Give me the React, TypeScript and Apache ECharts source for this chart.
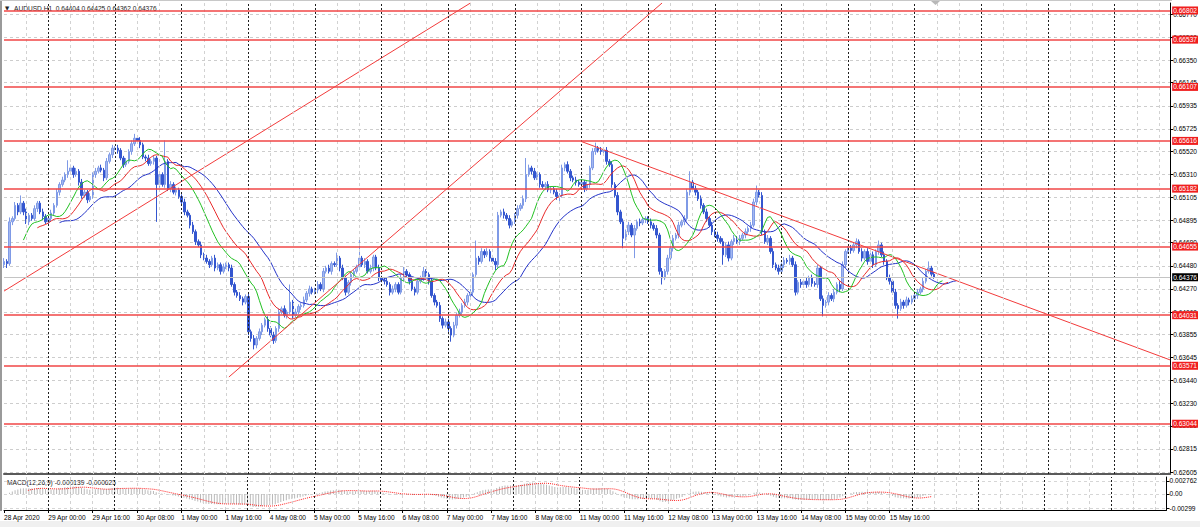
import React, { useEffect, useRef } from "react";
import * as echarts from "echarts";

// ---------- DATA (prices in 1/10000 units) ----------
const firstOpen = 6449;

// Closes, one row per trading day (28 Apr starts at 08:00)
const week1Close = [
  6452, 6450, 6488, 6491, 6503, 6497, 6505, 6497, 6488, 6494, 6491, 6500, 6505, 6497, 6493, 6488,
  6491, 6496, 6503, 6515, 6522, 6526, 6531, 6534, 6537, 6531, 6534, 6524, 6512, 6515, 6508, 6511, 6531, 6534, 6537, 6535, 6528, 6543, 6549, 6555,
  6555, 6553, 6546, 6540, 6543, 6552, 6559, 6564, 6562, 6558, 6547, 6546, 6541, 6543, 6546, 6522, 6531, 6522, 6543, 6518, 6522, 6515, 6517, 6511,
  6506, 6497, 6494, 6485, 6479, 6470, 6467, 6458, 6455, 6452, 6449, 6455, 6446, 6449, 6443, 6447, 6449, 6446, 6431, 6424, 6421, 6418, 6415, 6420,
];
const week2Close = [
  6388, 6382, 6376, 6382, 6388, 6394, 6399, 6391, 6385, 6380, 6391, 6406, 6409, 6403, 6406, 6415, 6403, 6406, 6411, 6412, 6417, 6423, 6427, 6424,
  6426, 6431, 6427, 6443, 6446, 6443, 6450, 6449, 6455, 6446, 6437, 6424, 6433, 6440, 6443, 6447, 6455, 6449, 6452, 6443, 6446, 6456, 6446, 6437,
  6435, 6434, 6431, 6424, 6427, 6431, 6424, 6437, 6443, 6440, 6434, 6427, 6424, 6434, 6437, 6443, 6440, 6434, 6421, 6415, 6412, 6400, 6394, 6397,
  6391, 6385, 6394, 6403, 6406, 6412, 6415, 6421, 6424, 6440, 6455, 6452, 6461, 6458, 6461, 6455, 6452, 6449, 6494, 6497, 6494, 6491, 6485, 6488,
  6494, 6500, 6503, 6509, 6531, 6537, 6534, 6528, 6531, 6522, 6520, 6522, 6517, 6518, 6515, 6511, 6512, 6537, 6540, 6534, 6528, 6526, 6524, 6522,
];
const week3Close = [
  6524, 6518, 6522, 6537, 6552, 6555, 6553, 6552, 6553, 6543, 6540, 6522, 6512, 6497, 6488, 6473, 6479, 6485, 6476, 6482, 6488, 6487, 6490, 6491,
  6488, 6485, 6482, 6476, 6443, 6437, 6443, 6455, 6464, 6473, 6476, 6485, 6488, 6491, 6515, 6524, 6518, 6515, 6509, 6503, 6497, 6491, 6485, 6479,
  6476, 6473, 6470, 6458, 6467, 6455, 6470, 6473, 6470, 6473, 6476, 6479, 6482, 6485, 6506, 6515, 6512, 6479, 6470, 6473, 6461, 6449, 6446, 6443,
  6449, 6453, 6452, 6455, 6449, 6424, 6433, 6431, 6434, 6431, 6437, 6432, 6431, 6446, 6418, 6412, 6415, 6421, 6418, 6424, 6431, 6427, 6449, 6461,
  6464, 6462, 6467, 6470, 6461, 6455, 6461, 6452, 6458, 6449, 6461, 6467, 6458, 6452, 6437, 6434, 6424, 6412, 6409, 6415, 6412, 6417, 6415, 6418,
];
const week4Close = [6421, 6424, 6427, 6434, 6443, 6446, 6440.4, 6437.6];

// Upper / lower wick lengths (pips beyond the body)
const week1Up = [
  3, 2, 4, 2, 3, 2, 7, 2, 3, 2, 2, 3, 2, 2, 3, 2,
  2, 3, 2, 3, 2, 3, 2, 10, 3, 2, 3, 2, 3, 2, 2, 3, 2, 3, 2, 3, 2, 3, 2, 3,
  2, 3, 2, 2, 3, 2, 3, 4, 2, 3, 2, 2, 3, 2, 2, 2, 3, 2, 19, 2, 3, 2, 3, 2,
  2, 3, 2, 2, 3, 2, 2, 3, 2, 3, 2, 2, 3, 2, 2, 3, 2, 2, 3, 2, 2, 3, 2, 2,
];
const week1Dn = [
  3, 4, 2, 3, 2, 3, 2, 3, 2, 3, 2, 2, 3, 2, 3, 2,
  2, 3, 2, 2, 3, 2, 2, 3, 2, 3, 2, 3, 3, 2, 3, 2, 2, 3, 2, 2, 3, 2, 2, 3,
  2, 3, 2, 3, 2, 2, 3, 2, 2, 3, 2, 3, 2, 2, 3, 34, 3, 2, 3, 2, 3, 2, 3, 2,
  2, 3, 2, 3, 2, 3, 2, 3, 2, 2, 3, 2, 3, 2, 3, 2, 2, 3, 2, 3, 2, 2, 3, 2,
];
const week2Up = [
  3, 2, 3, 2, 3, 2, 2, 3, 2, 3, 2, 3, 2, 3, 2, 16, 2, 3, 2, 2, 3, 2, 3, 2,
  2, 3, 2, 3, 2, 3, 2, 2, 5, 2, 3, 2, 2, 3, 2, 2, 18, 2, 3, 2, 3, 2, 2, 3,
  2, 2, 3, 2, 3, 2, 2, 3, 4, 2, 2, 3, 2, 3, 2, 4, 2, 2, 3, 2, 2, 3, 2, 3,
  3, 2, 3, 2, 3, 2, 3, 2, 3, 2, 16, 2, 3, 2, 3, 2, 2, 3, 3, 2, 3, 2, 3, 2,
  2, 3, 2, 3, 15, 3, 2, 3, 2, 2, 3, 2, 3, 2, 2, 3, 2, 3, 2, 3, 2, 2, 3, 2,
];
const week2Dn = [
  3, 3, 4, 3, 2, 3, 2, 3, 2, 3, 2, 3, 2, 2, 3, 2, 3, 2, 2, 3, 2, 2, 3, 2,
  2, 3, 2, 3, 2, 2, 3, 2, 2, 3, 2, 3, 2, 3, 2, 2, 3, 2, 3, 2, 2, 3, 2, 3,
  2, 3, 2, 3, 2, 3, 2, 2, 3, 2, 3, 2, 3, 2, 2, 3, 2, 3, 2, 3, 2, 3, 3, 2,
  3, 6, 2, 3, 2, 3, 2, 3, 2, 3, 2, 3, 2, 3, 2, 3, 2, 5, 3, 2, 3, 2, 3, 2,
  2, 3, 2, 3, 3, 2, 3, 2, 2, 3, 2, 3, 2, 3, 2, 3, 6, 2, 3, 2, 3, 2, 3, 2,
];
const week3Up = [
  3, 2, 3, 2, 3, 5, 2, 3, 2, 3, 2, 3, 2, 3, 2, 3, 2, 3, 2, 3, 2, 3, 2, 2,
  2, 3, 2, 3, 2, 3, 2, 3, 2, 3, 2, 3, 2, 3, 3, 10, 2, 3, 2, 3, 2, 3, 2, 3,
  2, 3, 2, 3, 2, 3, 2, 3, 2, 3, 2, 3, 2, 3, 3, 6, 2, 3, 2, 3, 2, 3, 2, 3,
  2, 3, 2, 3, 2, 3, 2, 3, 2, 3, 2, 3, 2, 3, 2, 3, 2, 3, 2, 3, 2, 3, 3, 2,
  2, 3, 2, 3, 2, 3, 2, 3, 2, 3, 2, 4, 2, 3, 2, 3, 2, 3, 2, 3, 2, 3, 2, 3,
];
const week3Dn = [
  2, 3, 2, 3, 2, 3, 2, 3, 2, 3, 2, 3, 2, 3, 2, 9, 2, 3, 2, 21, 2, 3, 2, 3,
  2, 3, 2, 3, 3, 6, 2, 3, 2, 3, 2, 3, 2, 3, 2, 3, 2, 3, 2, 3, 2, 3, 2, 3,
  2, 3, 2, 9, 2, 3, 2, 3, 2, 3, 2, 3, 2, 3, 2, 3, 2, 3, 2, 3, 2, 3, 2, 3,
  2, 3, 2, 3, 2, 3, 2, 3, 2, 3, 2, 3, 2, 3, 2, 10, 2, 3, 2, 3, 2, 3, 2, 3,
  2, 3, 2, 3, 2, 3, 2, 3, 2, 3, 2, 3, 2, 3, 2, 3, 2, 3, 9, 2, 3, 2, 3, 2,
];
const week4Up = [2, 3, 2, 3, 2, 6, 2, 2.1];
const week4Dn = [2, 3, 2, 3, 2, 2, 2, 1.4];

// Bottom time labels, one every 16 hourly bars
const timeLabels = [
  "28 Apr 2020", "29 Apr 00:00", "29 Apr 16:00", "30 Apr 08:00", "1 May 00:00", "1 May 16:00",
  "4 May 08:00", "5 May 00:00", "5 May 16:00", "6 May 08:00", "7 May 00:00", "7 May 16:00",
  "8 May 08:00", "11 May 00:00", "11 May 16:00", "12 May 08:00", "13 May 00:00", "13 May 16:00",
  "14 May 08:00", "15 May 00:00", "15 May 16:00",
];
const labelStep = 16;
const totalSlots = 421; // bars + empty space to the right (chart shift)
const gridStep = 8; // light vertical grid every 8 bars
const daySeparators = [16, 40, 64, 88, 112, 136, 160, 184, 208, 232, 256, 280, 304, 328, 352, 376, 400];

const priceTicks = [
  0.6677, 0.6656, 0.6635, 0.66145, 0.65935, 0.65725, 0.6552, 0.6531, 0.65105, 0.64895, 0.6469,
  0.6448, 0.6427, 0.6406, 0.63855, 0.63645, 0.6344, 0.6323, 0.63025, 0.62815, 0.62605,
];
const levels = [0.66802, 0.66537, 0.66107, 0.65616, 0.65182, 0.64655, 0.64031, 0.63571, 0.63044];
const bidPrice = 0.64376;

// Trend lines: [bar index, price] end points
const trendUp1 = [[0, 0.6425], [168, 0.6687]];
const trendUp2 = [[81, 0.63469], [237, 0.6687]];
const trendDown = [[208, 0.6561], [420, 0.63624]];

const macdTicks = [0.002762, 0, -0.00299];
const macdTickLabels = ["0.002762", "0.00", "-0.00299"];

const headerText = "AUDUSD,H1  0.64404 0.64425 0.64362 0.64376";
const macdText = "MACD(12,26,9) -0.000139 -0.000625";

// ---------- helpers ----------
const FONT = "'Liberation Sans', Arial, sans-serif";
const FS = 6.6;

function buildBars() {
  const closes = [...week1Close, ...week2Close, ...week3Close, ...week4Close];
  const ups = [...week1Up, ...week2Up, ...week3Up, ...week4Up];
  const dns = [...week1Dn, ...week2Dn, ...week3Dn, ...week4Dn];
  const bars: number[][] = [];
  let prev = firstOpen;
  closes.forEach((c, i) => {
    const o = prev;
    const hi = Math.max(o, c) + (ups[i] ?? 2);
    const lo = Math.min(o, c) - (dns[i] ?? 2);
    const r = (v: number) => Math.round(v * 10) / 100000;
    bars.push([r(o), r(c), r(lo), r(hi)]);
    prev = c;
  });
  return bars;
}

function smmaShift(src: number[], n: number, shift: number, len: number) {
  const out: (number | null)[] = new Array(len).fill(null);
  let s = 0;
  for (let i = 0; i < src.length; i++) {
    if (i < n - 1) continue;
    if (i === n - 1) {
      let sum = 0;
      for (let k = 0; k < n; k++) sum += src[k];
      s = sum / n;
    } else {
      s = (s * (n - 1) + src[i]) / n;
    }
    if (i + shift < len) out[i + shift] = +s.toFixed(6);
  }
  return out;
}

function ema(src: number[], n: number) {
  const k = 2 / (n + 1);
  const out: number[] = [];
  src.forEach((v, i) => out.push(i === 0 ? v : out[i - 1] + k * (v - out[i - 1])));
  return out;
}

export default function App() {
  const ref = useRef<HTMLDivElement>(null);

  useEffect(() => {
    if (!ref.current) return;
    const chart = echarts.init(ref.current, null, { renderer: "svg" });

    const bars = buildBars();
    const closes = bars.map((b) => b[1]);
    const median = bars.map((b) => (b[2] + b[3]) / 2);
    const jaw = smmaShift(median, 13, 8, totalSlots);
    const teeth = smmaShift(median, 8, 5, totalSlots);
    const lips = smmaShift(median, 5, 3, totalSlots);

    const e12 = ema(closes, 12);
    const e26 = ema(closes, 26);
    const main = closes.map((_, i) => e12[i] - e26[i]);
    const signal: (number | null)[] = main.map((_, i) => {
      if (i < 8) return null;
      let s = 0;
      for (let k = i - 8; k <= i; k++) s += main[k];
      return s / 9;
    });

    const cats = Array.from({ length: totalSlots }, (_, i) => String(i));
    const lightIdx: number[] = [];
    for (let i = gridStep; i < totalSlots; i += gridStep) {
      if (!daySeparators.includes(i)) lightIdx.push(i);
    }
    const labelIdx = (i: number) => i % labelStep === 0 && i / labelStep < timeLabels.length;

    const pxPer = 0.04165 / 458;
    const yMin = 0.62605 - 2 * pxPer;
    const yMax = 0.6677 + 11 * pxPer;

    const lightStyle = { color: "#d2d2d2", type: [3, 3], width: 1, opacity: 1 };
    const darkStyle = { color: "#202020", type: [2, 2], width: 1, opacity: 1 };
    const vLines = (idx: number[], dark: boolean) => ({
      silent: true,
      symbol: ["none", "none"],
      precision: 5,
      label: { show: false },
      lineStyle: dark ? darkStyle : lightStyle,
      emphasis: { disabled: true },
      data: idx.map((i) => ({ xAxis: i, lineStyle: dark ? darkStyle : lightStyle })),
    });

    const lvlLabel = (bg: string) => ({
      show: true,
      position: "end",
      distance: 2,
      formatter: (p: any) => Number(p.value).toFixed(5),
      color: "#ffffff",
      backgroundColor: bg,
      padding: [1, 1, 0, 1],
      fontSize: FS,
      fontFamily: FONT,
    });

    const trend = (pts: number[][]) => ({
      type: "line",
      xAxisIndex: 0,
      yAxisIndex: 0,
      data: pts,
      showSymbol: false,
      symbol: "none",
      clip: true,
      silent: true,
      lineStyle: { color: "#f23b3b", width: 1 },
      z: 4,
    });

    const xBase = (grid: number) => ({
      type: "category",
      gridIndex: grid,
      data: cats,
      boundaryGap: false,
      axisLine: { show: true, onZero: false, lineStyle: { color: "#000000", width: 1 } },
      axisTick: { show: false },
      axisLabel: { show: false },
      splitLine: { show: false },
    });

    const option: any = {
      animation: false,
      backgroundColor: "#ffffff",
      textStyle: { fontFamily: FONT },
      grid: [
        { left: 4, width: 1167, top: 3, height: 471 },
        { left: 4, width: 1167, top: 477, height: 33 },
      ],
      xAxis: [
        {
          ...xBase(0),
          axisLine: { show: true, onZero: false, lineStyle: { color: "#5a5a5a", width: 2 } },
        },
        {
          ...xBase(1),
          axisTick: {
            show: true,
            interval: (i: number) => labelIdx(i),
            length: 3,
            lineStyle: { color: "#000000" },
          },
          axisLabel: {
            show: true,
            interval: (i: number) => labelIdx(i),
            formatter: (_v: string, i: number) => timeLabels[i / labelStep] ?? "",
            align: "left",
            margin: 4,
            fontSize: FS,
            color: "#000000",
            fontFamily: FONT,
          },
        },
      ],
      yAxis: [
        {
          type: "value",
          gridIndex: 0,
          position: "right",
          min: yMin,
          max: yMax,
          axisLine: { show: true, lineStyle: { color: "#000000", width: 1 } },
          axisTick: { show: true, customValues: priceTicks, length: 3, lineStyle: { color: "#000000" } },
          axisLabel: {
            show: true,
            customValues: priceTicks,
            formatter: (v: number) => v.toFixed(5),
            fontSize: FS,
            color: "#000000",
            margin: 3,
            fontFamily: FONT,
          },
          splitLine: { show: true, lineStyle: { color: "#cdcdcd", type: [3, 3], width: 1 } },
        },
        {
          type: "value",
          gridIndex: 1,
          position: "right",
          min: -0.0034,
          max: 0.0036,
          axisLine: { show: true, lineStyle: { color: "#000000", width: 1 } },
          axisTick: { show: true, customValues: macdTicks, length: 3, lineStyle: { color: "#000000" } },
          axisLabel: {
            show: true,
            customValues: macdTicks,
            formatter: (v: number) => {
              const k = macdTicks.findIndex((t) => Math.abs(t - v) < 1e-9);
              return k >= 0 ? macdTickLabels[k] : "";
            },
            fontSize: FS,
            color: "#000000",
            margin: 3,
            fontFamily: FONT,
          },
          splitLine: { show: true, lineStyle: { color: "#d6d6d6", type: [3, 3], width: 1 } },
        },
      ],
      series: [
        // grid lines (main panel)
        {
          type: "line", xAxisIndex: 0, yAxisIndex: 0, data: [], silent: true, z: 1,
          markLine: vLines(lightIdx, false),
        },
        {
          type: "line", xAxisIndex: 0, yAxisIndex: 0, data: [], silent: true, z: 1,
          markLine: vLines(daySeparators, true),
        },
        // grid lines (MACD panel)
        {
          type: "line", xAxisIndex: 1, yAxisIndex: 1, data: [], silent: true, z: 1,
          markLine: vLines(lightIdx, false),
        },
        {
          type: "line", xAxisIndex: 1, yAxisIndex: 1, data: [], silent: true, z: 1,
          markLine: vLines(daySeparators, true),
        },
        {
          type: "candlestick",
          xAxisIndex: 0,
          yAxisIndex: 0,
          data: bars,
          barWidth: 2,
          silent: true,
          z: 3,
          itemStyle: {
            color: "#a3b8f1",
            color0: "#3456cf",
            borderColor: "#7f9ae6",
            borderColor0: "#3456cf",
            borderWidth: 1,
          },
          markLine: {
            silent: true,
            symbol: ["none", "none"],
            precision: 5,
            data: [
              ...levels.map((v) => ({
                yAxis: v,
                lineStyle: { color: "#f04646", width: 1.5, type: "solid" },
                label: lvlLabel("#f01e1e"),
              })),
              {
                yAxis: bidPrice,
                lineStyle: { color: "#c4c4c4", width: 1, type: "solid" },
                label: lvlLabel("#000000"),
              },
            ],
          },
        },
        {
          type: "line", xAxisIndex: 0, yAxisIndex: 0, data: jaw, showSymbol: false, symbol: "none",
          silent: true, lineStyle: { color: "#2433c8", width: 1 }, z: 4,
        },
        {
          type: "line", xAxisIndex: 0, yAxisIndex: 0, data: teeth, showSymbol: false, symbol: "none",
          silent: true, lineStyle: { color: "#e82a2a", width: 1 }, z: 4,
        },
        {
          type: "line", xAxisIndex: 0, yAxisIndex: 0, data: lips, showSymbol: false, symbol: "none",
          silent: true, lineStyle: { color: "#22c022", width: 1 }, z: 4,
        },
        trend(trendUp1),
        trend(trendUp2),
        trend(trendDown),
        {
          type: "bar",
          xAxisIndex: 1,
          yAxisIndex: 1,
          data: main.map((v) => +v.toFixed(6)),
          barWidth: 1,
          silent: true,
          itemStyle: { color: "#b9b9b9" },
        },
        {
          type: "line",
          xAxisIndex: 1,
          yAxisIndex: 1,
          data: signal.map((v) => (v == null ? null : +v.toFixed(6))),
          showSymbol: false,
          symbol: "none",
          silent: true,
          lineStyle: { color: "#ff2020", width: 1, type: "dotted" },
        },
      ],
      graphic: [
        { type: "rect", shape: { x: 0, y: 521, width: 1200, height: 6 }, style: { fill: "#f0f0f0" }, silent: true },
        { type: "line", shape: { x1: 1, y1: 0, x2: 1, y2: 511 }, style: { stroke: "#9a9a9a", lineWidth: 2 }, silent: true },
        { type: "line", shape: { x1: 0, y1: 0.5, x2: 1172, y2: 0.5 }, style: { stroke: "#c8c8c8", lineWidth: 1 }, silent: true },
        {
          type: "polygon",
          shape: { points: [[931, 1], [940, 1], [935.5, 5]] },
          style: { fill: "#b8b8b8" },
          silent: true,
        },
        {
          type: "text",
          x: 5,
          y: 5,
          style: { text: "▼", fontSize: 5.5, fill: "#222222", fontFamily: "DejaVu Sans" },
          silent: true,
        },
        {
          type: "text",
          x: 14,
          y: 5,
          style: { text: headerText, fontSize: FS, fill: "#1a1a1a", fontFamily: FONT },
          silent: true,
        },
        {
          type: "text",
          x: 7,
          y: 479,
          style: { text: macdText, fontSize: FS, fill: "#1a1a1a", fontFamily: FONT },
          silent: true,
        },
      ],
    };

    chart.setOption(option);
    return () => chart.dispose();
  }, []);

  return (
    <div
      ref={ref}
      style={{ position: "absolute", left: 0, top: 0, width: 1200, height: 527, background: "#ffffff" }}
    />
  );
}
